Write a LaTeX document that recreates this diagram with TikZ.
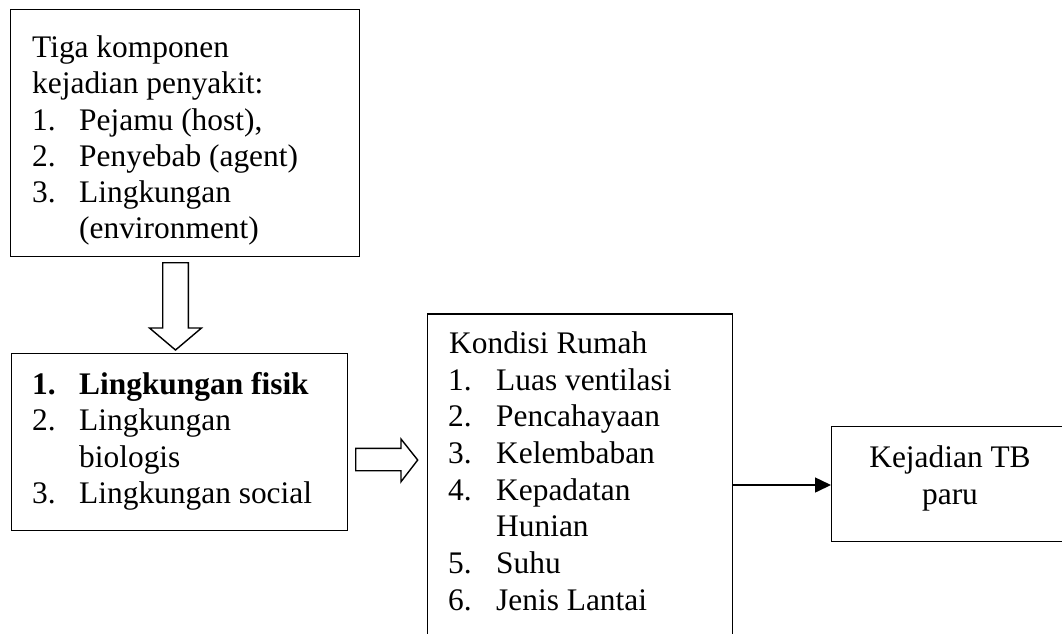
\documentclass[tikz,border=0pt]{standalone}
\usepackage{fontspec}
\setmainfont{Liberation Serif}
\usetikzlibrary{arrows.meta}
\begin{document}
\begin{tikzpicture}[x=1pt,y=-1pt,
  box/.style={draw, line width=1.4pt, inner sep=0pt, anchor=north west},
  txt/.style={anchor=base west, inner sep=0pt, font=\fontsize{31.4}{36}\selectfont},
  ctxt/.style={anchor=base, inner sep=0pt, font=\fontsize{31.4}{36}\selectfont},
  blockarrow/.style={draw, line width=1.4pt, fill=white, line join=miter},
  conn/.style={draw, line width=1.5pt, -{Triangle[length=16pt,width=15pt]}}]
\clip (0,0) rectangle (1062,633);
\fill[white] (0,0) rectangle (1062,633);
% boxes
\node[box, minimum width=349pt, minimum height=247pt] (b1) at (10,9) {};
\node[box, minimum width=336pt, minimum height=177pt] (b2) at (10.7,352.7) {};
\node[box, minimum width=305pt, minimum height=347pt] (b3) at (426.7,313.3) {};
\node[box, minimum width=238pt, minimum height=115pt] (b4) at (831,426) {};
% box 1 text
\node[txt] (t1a) at (32,57) {Tiga komponen};
\node[txt] (t1b) at (32,93) {kejadian penyakit:};
\node[txt] (t1c) at (32,130) {1.};
\node[txt] (t1cc) at (79,130) {Pejamu (host),};
\node[txt] (t1d) at (32,166) {2.};
\node[txt] (t1dd) at (79,166) {Penyebab (agent)};
\node[txt] (t1e) at (32,202) {3.};
\node[txt] (t1ee) at (79,202) {Lingkungan};
\node[txt] (t1f) at (79,238) {(environment)};
% box 2 text
\node[txt, font=\fontsize{31.4}{36}\selectfont\bfseries] (t2a) at (32,394) {1.};
\node[txt, font=\fontsize{31.4}{36}\selectfont\bfseries] (t2aa) at (79,394) {Lingkungan fisik};
\node[txt] (t2b) at (32,430) {2.};
\node[txt] (t2bb) at (79,430) {Lingkungan};
\node[txt] (t2c) at (79,467) {biologis};
\node[txt] (t2d) at (32,503) {3.};
\node[txt] (t2dd) at (79,503) {Lingkungan social};
% box 3 text
\node[txt] (t3a) at (449,353) {Kondisi Rumah};
\node[txt] (t3b) at (448,390) {1.};
\node[txt] (t3bb) at (496,390) {Luas ventilasi};
\node[txt] (t3c) at (448,426) {2.};
\node[txt] (t3cc) at (496,426) {Pencahayaan};
\node[txt] (t3d) at (448,463) {3.};
\node[txt] (t3dd) at (496,463) {Kelembaban};
\node[txt] (t3e) at (448,500) {4.};
\node[txt] (t3ee) at (496,500) {Kepadatan};
\node[txt] (t3f) at (496,536) {Hunian};
\node[txt] (t3g) at (448,573) {5.};
\node[txt] (t3gg) at (496,573) {Suhu};
\node[txt] (t3h) at (448,610) {6.};
\node[txt] (t3hh) at (496,610) {Jenis Lantai};
% box 4 text
\node[ctxt] (t4a) at (950,467) {Kejadian TB};
\node[ctxt] (t4b) at (950,504) {paru};
% block arrows
\path[blockarrow] (162.7,262.7) -- (188.3,262.7) -- (188.3,328) -- (201.5,328) -- (175.5,350) -- (149.5,328) -- (162.7,328) -- cycle;
\path[blockarrow] (355.7,448.3) -- (401,448.3) -- (401,439) -- (417.7,460) -- (401,481.7) -- (401,470.7) -- (355.7,470.7) -- cycle;
% connector
\coordinate (c1) at (b3.east |- 0,485);
\coordinate (c2) at (b4.west |- 0,485);
\path[conn] (c1) -- (c2);
\end{tikzpicture}
\end{document}
